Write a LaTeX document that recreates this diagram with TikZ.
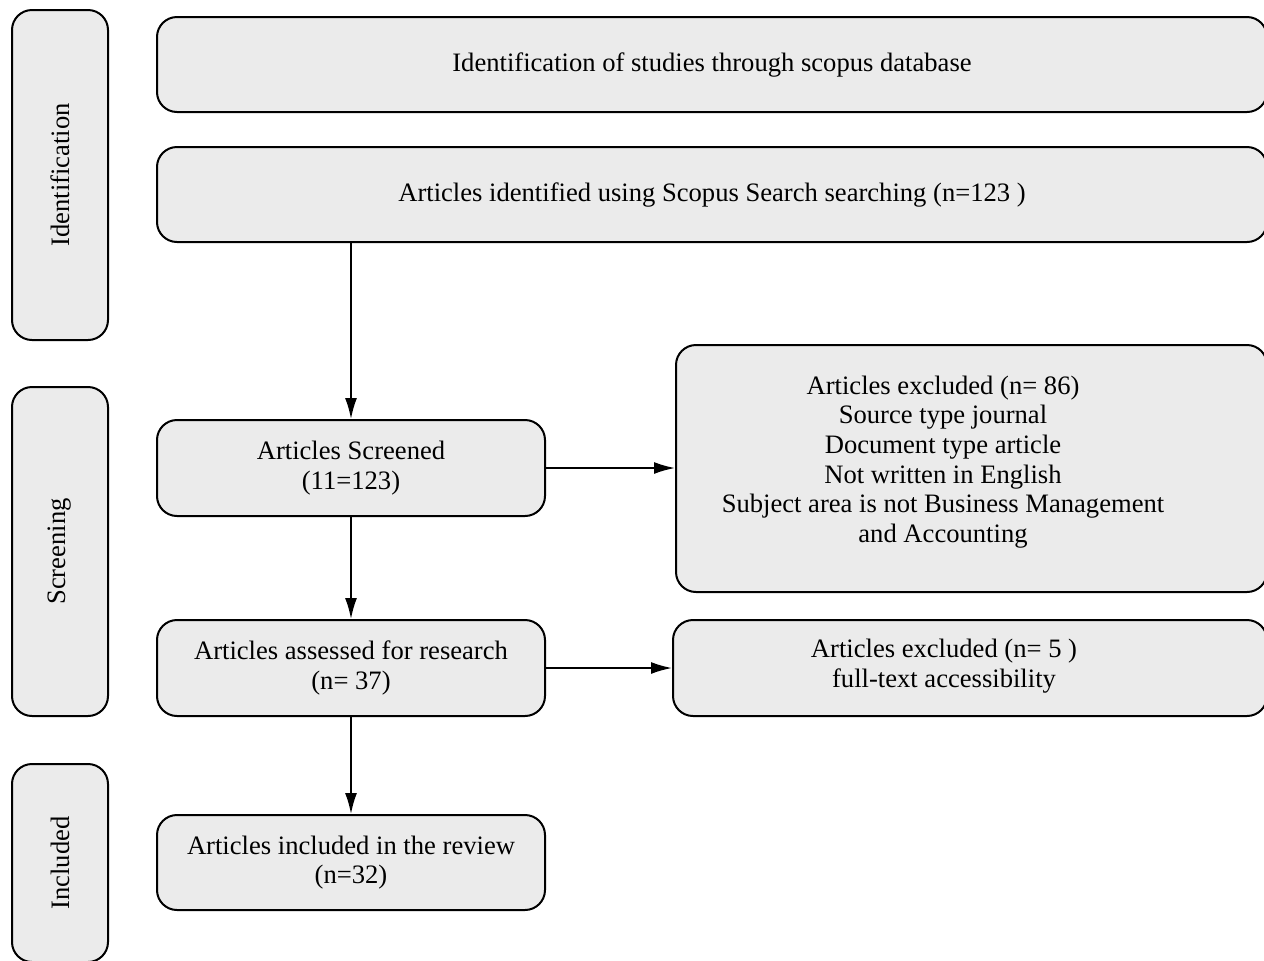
\documentclass[tikz,border=0pt]{standalone}
\usepackage{fontspec}
\setmainfont{Liberation Serif}
\usepackage{tikz}
\usetikzlibrary{arrows.meta,positioning}
\definecolor{boxgray}{HTML}{EBEBEB}
\tikzset{
  stage/.style={
    shape = rectangle,
    draw,
    fill = boxgray,
    line width = 1pt,
    rounded corners = 10pt,
    inner sep = 0pt
  },
  phase/.style={
    stage,
    minimum width = 48pt
  },
  flowbox/.style={
    stage,
    align = center
  },
  flow/.style={
    line width = 0.9pt,
    -{Latex[length=10.5pt,width=6pt]}
  },
  every picture/.style = {
    font=\fontsize{13.3}{14.8}\selectfont
  }
}
\begin{document}
\begin{tikzpicture}[x=0.5pt,y=-0.5pt]
  \useasboundingbox (0,0) rectangle (1264,960);

  % phases at the left
  \node[phase, minimum height=165pt] (ident) at (60,175) {};
  \node[rotate=90] at (ident.center) {Identification};
  \node[phase, minimum height=164.5pt] (screen) at (60,551.5) {};
  \node[rotate=90] at (screen.center) {Screening};
  \node[phase, minimum height=99pt] (incl) at (60,863) {};
  \node[rotate=90] at (incl.center) {Included};

  % main column
  \node[flowbox, minimum width=555pt, minimum height=47.5pt] (db) at (712,64.5)
    {Identification of studies through scopus database};
  \node[flowbox, minimum width=555pt, minimum height=47.5pt] (found) at (712,194.5)
    {Articles identified using Scopus Search searching (n=123 )};
  \node[flowbox, minimum width=194pt, minimum height=48pt] (screened) at (351,468)
    {Articles Screened\\(11=123)};
  \node[flowbox, minimum width=194pt, minimum height=48pt] (assessed) at (351,668)
    {Articles assessed for research\\(n= 37)};
  \node[flowbox, minimum width=194pt, minimum height=47.5pt] (included) at (351,862.5)
    {Articles included in the review\\(n=32)};

  % exclusions
  \node[stage, minimum width=295.5pt, minimum height=123.5pt] (excl) at (971.5,468.5) {};
  \node[align=center] at (943,462) {Articles excluded (n= 86)\\Source type journal\\
    Document type article\\Not written in English\\
    Subject area is not Business Management\\and Accounting};
  \node[stage, minimum width=297pt, minimum height=48pt] (exclft) at (970,668) {};
  \node[align=center] at (944,666) {Articles excluded (n= 5 )\\full-text accessibility};

  \draw[flow] (screened.north |- found.south) -- (screened.north);
  \draw[flow] (screened) -- (assessed);
  \draw[flow] (assessed) -- (included);
  \draw[flow] (screened.east) -- (screened.east -| excl.west);
  \draw[flow] (assessed.east) -- (assessed.east -| exclft.west);
\end{tikzpicture}
\end{document}
